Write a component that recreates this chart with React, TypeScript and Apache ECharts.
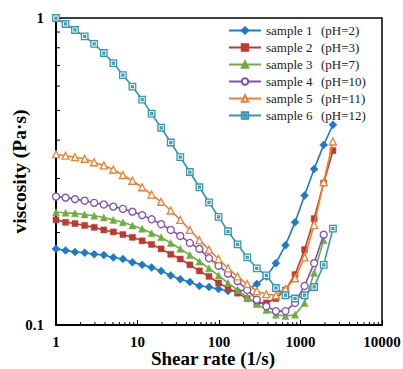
import React, { useEffect, useRef } from "react";
import * as echarts from "echarts";

// Shear rate grid (1/s)
const shearRate = [1, 1.31, 1.71, 2.25, 2.94, 3.86, 5.05, 6.62, 8.67, 11.4, 14.9, 19.5, 25.6, 33.5, 43.9, 57.5, 75.4, 98.7, 129, 169, 222, 291, 381, 499, 654, 857, 1122, 1470, 1926, 2500];

// Viscosity (Pa·s)
const sample1 = [0.177, 0.175, 0.173, 0.172, 0.170, 0.169, 0.166, 0.164, 0.160, 0.157, 0.154, 0.150, 0.145, 0.141, 0.138, 0.134, 0.133, 0.131, 0.129, 0.129, 0.130, 0.136, 0.144, 0.159, 0.182, 0.216, 0.264, 0.322, 0.386, 0.449];
const sample2 = [0.220, 0.216, 0.214, 0.211, 0.208, 0.204, 0.201, 0.197, 0.193, 0.188, 0.183, 0.177, 0.170, 0.164, 0.157, 0.150, 0.144, 0.137, 0.132, 0.127, 0.122, 0.118, 0.118, 0.122, 0.130, 0.146, 0.176, 0.222, 0.290, 0.370];
const sample3 = [0.233, 0.232, 0.231, 0.229, 0.227, 0.224, 0.220, 0.216, 0.211, 0.206, 0.199, 0.193, 0.185, 0.177, 0.169, 0.161, 0.153, 0.145, 0.137, 0.130, 0.123, 0.117, 0.112, 0.108, 0.107, 0.108, 0.118, 0.148, 0.189];
const sample4 = [0.262, 0.260, 0.257, 0.254, 0.250, 0.247, 0.243, 0.239, 0.234, 0.228, 0.221, 0.213, 0.204, 0.195, 0.185, 0.177, 0.165, 0.156, 0.147, 0.139, 0.130, 0.121, 0.115, 0.111, 0.111, 0.118, 0.134, 0.159, 0.197];
const sample5 = [0.360, 0.356, 0.352, 0.348, 0.339, 0.331, 0.321, 0.308, 0.295, 0.281, 0.266, 0.252, 0.236, 0.220, 0.204, 0.189, 0.176, 0.164, 0.153, 0.144, 0.136, 0.129, 0.126, 0.125, 0.131, 0.142, 0.166, 0.212, 0.292, 0.396];
const sample6 = [1.0, 0.956, 0.914, 0.871, 0.824, 0.769, 0.713, 0.652, 0.598, 0.542, 0.488, 0.439, 0.393, 0.352, 0.315, 0.281, 0.251, 0.225, 0.202, 0.183, 0.166, 0.153, 0.145, 0.132, 0.125, 0.122, 0.125, 0.133, 0.157, 0.206];

const sampleNames = ["sample 1", "sample 2", "sample 3", "sample 4", "sample 5", "sample 6"];
const phLabels = ["(pH=2)", "(pH=3)", "(pH=7)", "(pH=10)", "(pH=11)", "(pH=12)"];
const allSamples = [sample1, sample2, sample3, sample4, sample5, sample6];

// Tick labels
const xTickLabels = ["1", "10", "100", "1000", "10000"];
const yTickLabels = ["0.1", "1"];

// Minor tick values
const xMinorTicks = [2, 3, 4, 5, 6, 7, 8, 9, 20, 30, 40, 50, 60, 70, 80, 90, 200, 300, 400, 500, 600, 700, 800, 900, 2000, 3000, 4000, 5000, 6000, 7000, 8000, 9000];
const yMinorTicks = [0.2, 0.3, 0.4, 0.5, 0.6, 0.7, 0.8, 0.9];

const colors = ["#1f78c8", "#c0392f", "#6fae3e", "#7f4fb3", "#f07f32", "#3596b2"];
const symbols = ["diamond", "rect", "triangle", "circle", "triangle", "path://M0 0H10V10H0Z M3.5 3.5H6.5V6.5H3.5Z"];
const symbolSizes = [8, 6, 7, 7, 7, 6.5];
const hollow = [false, false, false, true, true, true];

const FONT = "'Liberation Serif', 'Times New Roman', serif";

export default function App() {
  const ref = useRef<HTMLDivElement>(null);
  useEffect(() => {
    if (!ref.current) return;
    const chart = echarts.init(ref.current, undefined, { renderer: "svg" });
    const phByName: Record<string, string> = {};
    sampleNames.forEach((n, i) => (phByName[n] = phLabels[i]));

    const series = allSamples.map((vals, i) => ({
      name: sampleNames[i],
      type: "line",
      data: vals.map((v, j) => [shearRate[j], v]),
      symbol: symbols[i],
      symbolSize: symbolSizes[i],
      showSymbol: true,
      lineStyle: { color: colors[i], width: 1.6 },
      itemStyle: hollow[i]
        ? { color: "#ffffff", borderColor: colors[i], borderWidth: 1.3 }
        : { color: colors[i], borderColor: colors[i], borderWidth: 0.5 },
      emphasis: { disabled: true },
      z: 2 + i,
    }));

    const labelFor = (list: string[]) => (v: number) => {
      const s = list.find((t) => Math.abs(parseFloat(t) - v) < 1e-9 * Math.max(1, v));
      return s ?? "";
    };

    chart.setOption({
      animation: false,
      grid: {
        left: 56,
        right: 21,
        top: 18,
        bottom: 44,
        show: true,
        borderColor: "#000",
        borderWidth: 1.5,
        backgroundColor: "transparent",
        containLabel: false,
        outerBoundsMode: "none",
      },
      legend: {
        orient: "vertical",
        left: 228,
        top: 24,
        padding: 0,
        itemWidth: 32,
        itemHeight: 8,
        itemGap: 4,
        data: sampleNames,
        formatter: (name: string) => `{a|${name}}{b|${phByName[name]}}`,
        textStyle: {
          fontFamily: FONT,
          fontSize: 13,
          color: "#1a1a1a",
          rich: {
            a: { width: 55, fontFamily: FONT, fontSize: 13, lineHeight: 13, color: "#1a1a1a" },
            b: { fontFamily: FONT, fontSize: 13, lineHeight: 13, color: "#1a1a1a" },
          },
        },
      },
      xAxis: {
        type: "log",
        logBase: 10,
        min: 1,
        max: 10000,
        name: "Shear rate (1/s)",
        nameLocation: "middle",
        nameGap: 24,
        nameMoveOverlap: false,
        nameTextStyle: { fontFamily: FONT, fontSize: 19, fontWeight: "bold", color: "#000", padding: [0, 12, 0, 0] },
        axisLine: { lineStyle: { color: "#000", width: 2 } },
        axisTick: { inside: true, length: 5, lineStyle: { color: "#000", width: 1 } },
        axisLabel: { fontFamily: FONT, fontSize: 15, fontWeight: "bold", color: "#000", margin: 9, formatter: labelFor(xTickLabels) },
        splitLine: { show: false },
      },
      yAxis: {
        type: "log",
        logBase: 10,
        min: 0.1,
        max: 1,
        name: "viscosity (Pa·s)",
        nameLocation: "middle",
        nameGap: 27,
        nameRotate: 90,
        nameMoveOverlap: false,
        nameTextStyle: { fontFamily: FONT, fontSize: 19.5, fontWeight: "bold", color: "#000" },
        axisLine: { lineStyle: { color: "#000", width: 2 } },
        axisTick: { inside: true, length: 5, lineStyle: { color: "#000", width: 1 } },
        axisLabel: { fontFamily: FONT, fontSize: 15, fontWeight: "bold", color: "#000", margin: 12, formatter: labelFor(yTickLabels) },
        splitLine: { show: false },
      },
      series,
    });

    const graphics: any[] = [];
    xMinorTicks.forEach((v) => {
      const p = chart.convertToPixel({ gridIndex: 0 }, [v, 0.1]) as number[];
      graphics.push({
        type: "line",
        shape: { x1: p[0], y1: p[1], x2: p[0], y2: p[1] - 3 },
        style: { stroke: "#000", lineWidth: 1 },
        silent: true,
      });
    });
    yMinorTicks.forEach((v) => {
      const p = chart.convertToPixel({ gridIndex: 0 }, [1, v]) as number[];
      graphics.push({
        type: "line",
        shape: { x1: p[0], y1: p[1], x2: p[0] + 4, y2: p[1] },
        style: { stroke: "#000", lineWidth: 1 },
        silent: true,
      });
    });
    chart.setOption({ graphic: graphics });

    return () => chart.dispose();
  }, []);
  return <div ref={ref} style={{ position: "fixed", left: 0, top: 0, width: 403, height: 369, background: "#fff" }} />;
}
